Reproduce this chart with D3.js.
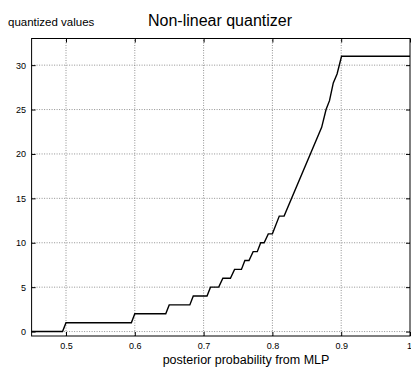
<!DOCTYPE html>
<html>
<head>
<meta charset="utf-8">
<script src="https://cdn.jsdelivr.net/npm/d3@7"></script>
<style>
  body { margin: 0; background: #fff; }
  text { font-family: "Liberation Sans", Arial, sans-serif; }
</style>
</head>
<body>
<script>
// posterior probability (x) and quantized value (y) breakpoints
const probs = [0.45, 0.495, 0.5, 0.595, 0.6, 0.645, 0.65, 0.68, 0.685, 0.705, 0.71, 0.722,
  0.728, 0.739, 0.745, 0.755, 0.76, 0.766, 0.772, 0.778, 0.783, 0.788, 0.794, 0.8,
  0.81, 0.817, 0.8716, 0.878, 0.883, 0.8885, 0.894, 0.9005, 1.0];
const levels = [0, 0, 1, 1, 2, 2, 3, 3, 4, 4, 5, 5,
  6, 6, 7, 7, 8, 8, 9, 9, 10, 10, 11, 11,
  13, 13, 23, 25, 26, 28, 29, 31, 31];
const xTicks = [0.5, 0.6, 0.7, 0.8, 0.9, 1];
const yTicks = [0, 5, 10, 15, 20, 25, 30];

const width = 411, height = 367;
const margin = { top: 38.5, right: 1, bottom: 31, left: 31.6 };

const svg = d3.select('body').append('svg')
  .attr('width', width)
  .attr('height', height);

const x = d3.scaleLinear().domain([0.45, 1]).range([margin.left, width - margin.right]);
const y = d3.scaleLinear().domain([-0.5, 33]).range([height - margin.bottom, margin.top]);

// grid
const grid = svg.append('g').attr('class', 'grid');
grid.selectAll('line.gx')
  .data(xTicks.filter(d => d < 1))
  .enter().append('line')
    .attr('x1', d => x(d)).attr('x2', d => x(d))
    .attr('y1', y.range()[0]).attr('y2', y.range()[1])
    .style('stroke', '#777').style('stroke-width', 0.8)
    .style('stroke-dasharray', '1,1.5');
grid.selectAll('line.gy')
  .data(yTicks)
  .enter().append('line')
    .attr('x1', x.range()[0]).attr('x2', x.range()[1])
    .attr('y1', d => y(d)).attr('y2', d => y(d))
    .style('stroke', '#777').style('stroke-width', 0.8)
    .style('stroke-dasharray', '1,1.5');

// axes
const axBottom = svg.append('g')
  .attr('transform', `translate(0,${y.range()[0]})`)
  .call(d3.axisBottom(x).tickValues(xTicks).tickFormat(d3.format('')).tickSizeInner(-4).tickSizeOuter(0).tickPadding(7));
const axTop = svg.append('g')
  .attr('transform', `translate(0,${y.range()[1]})`)
  .call(d3.axisTop(x).tickValues(xTicks).tickFormat('').tickSizeInner(-4).tickSizeOuter(0));
const axLeft = svg.append('g')
  .attr('transform', `translate(${x.range()[0]},0)`)
  .call(d3.axisLeft(y).tickValues(yTicks).tickSizeInner(-4).tickSizeOuter(0).tickPadding(5.5));
const axRight = svg.append('g')
  .attr('transform', `translate(${x.range()[1]},0)`)
  .call(d3.axisRight(y).tickValues(yTicks).tickFormat('').tickSizeInner(-4).tickSizeOuter(0));

[axBottom, axTop, axLeft, axRight].forEach(g => {
  g.select('.domain').remove();
  g.selectAll('.tick line').style('stroke', '#000');
  g.selectAll('.tick text').style('font-size', '9px').style('fill', '#000')
    .style('font-family', '"Liberation Sans", Arial, sans-serif');
});
// keep the last x label inside the window
axBottom.selectAll('.tick text').filter(d => d === 1).attr('text-anchor', 'end').attr('dx', 1.5);

// frame
svg.append('rect')
  .attr('x', x.range()[0]).attr('y', y.range()[1])
  .attr('width', x.range()[1] - x.range()[0])
  .attr('height', y.range()[0] - y.range()[1])
  .style('fill', 'none').style('stroke', '#000').style('stroke-width', 1);

// curve
const line = d3.line().x((d, i) => x(probs[i])).y(d => y(d));
svg.append('path')
  .attr('d', line(levels))
  .style('fill', 'none')
  .style('stroke', '#000')
  .style('stroke-width', 1.4);

// labels
svg.append('text')
  .attr('x', 220).attr('y', 26)
  .attr('text-anchor', 'middle')
  .style('font-size', '16px')
  .text('Non-linear quantizer');
svg.append('text')
  .attr('x', 8).attr('y', 26)
  .style('font-size', '11.5px')
  .text('quantized values');
svg.append('text')
  .attr('x', 246).attr('y', 364)
  .attr('text-anchor', 'middle')
  .style('font-size', '12.5px')
  .text('posterior probability from MLP');
</script>
</body>
</html>
